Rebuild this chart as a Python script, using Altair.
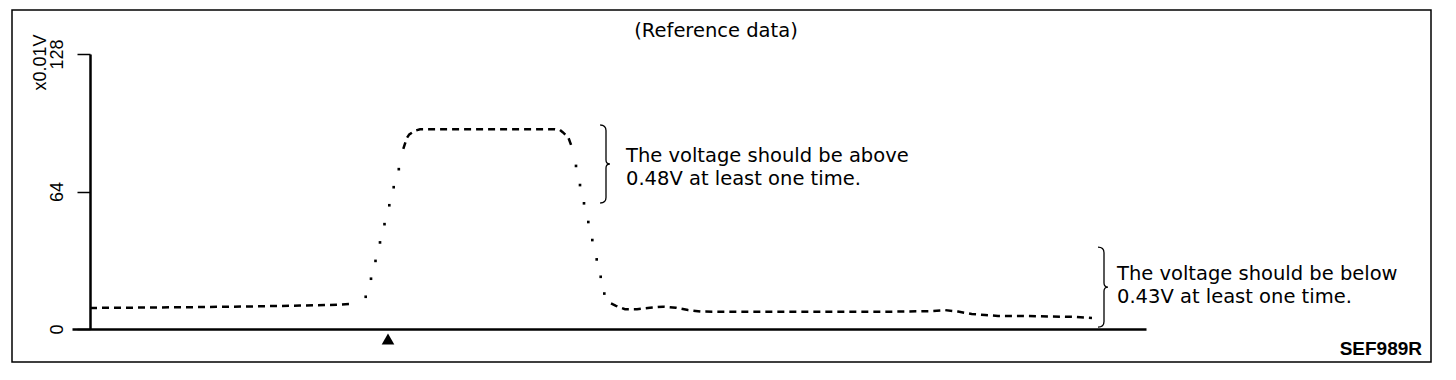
import altair as alt
import pandas as pd

# ---- curve samples (time units, x0.01V) ----
time = [0, 6, 11, 16, 21, 24, 26,
        27.57, 28.1, 28.55, 29.0, 29.45, 29.93, 30.37, 30.88,
        31.33, 31.67, 31.93, 32.5, 33.0, 36.0, 40.0, 44.0, 46.5, 47.0, 47.27, 47.83, 48.17,
        48.6, 49.0, 49.4, 49.83, 50.23, 50.67, 51.07, 51.43,
        52.1, 52.6, 53.5, 54.7, 56.0, 57.3, 58.6, 59.8, 61.17, 66, 71, 76, 81, 84, 85.5,
        86.8, 88.17, 89.5, 90.8, 93, 96, 98.3, 100.2]
volt = [9.8, 10.0, 10.2, 10.5, 10.9, 11.2, 11.6,
        15.0, 23.4, 31.7, 40.3, 48.8, 57.6, 66.0, 74.4,
        83.8, 88.8, 90.6, 92.3, 93.0, 93.0, 93.0, 93.0, 93.0, 92.6, 91.6, 89.2, 84.9,
        75.9, 67.0, 58.5, 49.8, 41.4, 32.4, 24.3, 16.5,
        11.9, 10.8, 9.2, 9.2, 9.9, 10.4, 9.9, 8.8, 8.1, 8.0, 8.0, 8.0, 8.1, 8.3, 8.8,
        8.1, 7.0, 6.5, 6.1, 6.1, 5.8, 5.7, 5.1]
kind = (["a"] * 7 + ["rise"] * 8 + ["b"] * 13 + ["fall"] * 8 + ["c"] * 23)

y_ticks = [0, 64, 128]

# annotations
ann_text = ["The voltage should be above", "0.48V at least one time.",
            "The voltage should be below", "0.43V at least one time."]
ann_t = [53.6, 53.6, 102.7, 102.7]
ann_v = [77.7, 67.0, 22.8, 12.1]

brace_t = [51.6, 101.4]
brace_v = [76.8, 19.5]
brace_size = [6084, 6400]

marker_t = [29.8]
marker_v = [-4.7]

title_text = ["(Reference data)"]
title_t = [62.6]
title_v = [135.9]

code_text = ["SEF989R"]
code_t = [133.2]
code_v = [-12.1]

df = pd.DataFrame({"t": time, "v": volt, "kind": kind})
ann = pd.DataFrame({"t": ann_t, "v": ann_v, "txt": ann_text})
braces = pd.DataFrame({"t": brace_t, "v": brace_v, "s": brace_size})
marker = pd.DataFrame({"t": marker_t, "v": marker_v})
ttl = pd.DataFrame({"t": title_t, "v": title_v, "txt": title_text})
code = pd.DataFrame({"t": code_t, "v": code_v, "txt": code_text})

xscale = alt.Scale(domain=[-1.8, 105.6], nice=False, zero=False)
yscale = alt.Scale(domain=[0, 128], nice=False, zero=False)

X = alt.X("t:Q", scale=xscale,
          axis=alt.Axis(domain=True, ticks=False, labels=False, grid=False, title=None,
                        domainColor="black", domainWidth=2.5))
Y = alt.Y("v:Q", scale=yscale,
          axis=alt.Axis(values=y_ticks, offset=-18, tickSize=13, tickWidth=1.5, tickColor="black",
                        domainColor="black", domainWidth=2.5, grid=False,
                        labelAngle=270, labelAlign="center", labelBaseline="alphabetic",
                        labelPadding=15, labelFont="Liberation Sans", labelFontSize=18,
                        labelColor="black", labelFlush=False, labelOverlap=False,
                        title="x0.01V", titleAngle=270, titleX=-45, titleY=8,
                        titleAlign="center", titleBaseline="alphabetic",
                        titleFont="Liberation Sans", titleFontSize=18,
                        titleFontWeight="normal", titleColor="black"))

lines = alt.Chart(df).transform_filter(
    alt.FieldOneOfPredicate(field="kind", oneOf=["a", "b", "c"])
).mark_line(color="black", strokeWidth=2.5, strokeDash=[7, 5]).encode(
    x=X, y=Y, detail="kind:N")

dots = alt.Chart(df).transform_filter(
    alt.FieldOneOfPredicate(field="kind", oneOf=["rise", "fall"])
).mark_square(color="black", size=7, opacity=1).encode(
    x=alt.X("t:Q", scale=xscale), y=alt.Y("v:Q", scale=yscale))

brace_path = "M -0.15 -1 Q 0 -1 0 -0.86 L 0 -0.1 Q 0 0 0.1 0 Q 0 0 0 0.1 L 0 0.86 Q 0 1 -0.15 1"
brace_marks = alt.Chart(braces).mark_point(
    shape=brace_path, filled=False, stroke="black", strokeWidth=1.3, opacity=1).encode(
    x=alt.X("t:Q", scale=xscale), y=alt.Y("v:Q", scale=yscale),
    size=alt.Size("s:Q", scale=None))

ann_marks = alt.Chart(ann).mark_text(
    align="left", baseline="alphabetic", font="DejaVu Sans", fontSize=19.5, color="black").encode(
    x=alt.X("t:Q", scale=xscale), y=alt.Y("v:Q", scale=yscale), text="txt:N")

title_mark = alt.Chart(ttl).mark_text(
    align="center", baseline="alphabetic", font="DejaVu Sans", fontSize=19.5, color="black").encode(
    x=alt.X("t:Q", scale=xscale), y=alt.Y("v:Q", scale=yscale), text="txt:N")

code_mark = alt.Chart(code).mark_text(
    align="right", baseline="alphabetic", font="Liberation Sans", fontSize=19,
    fontWeight="bold", color="black").encode(
    x=alt.X("t:Q", scale=xscale), y=alt.Y("v:Q", scale=yscale), text="txt:N")

marker_mark = alt.Chart(marker).mark_point(
    shape="triangle-up", filled=True, color="black", size=160, opacity=1).encode(
    x=alt.X("t:Q", scale=xscale), y=alt.Y("v:Q", scale=yscale))

frame = alt.Chart(marker).mark_rect(
    fill="white", fillOpacity=0, stroke="black", strokeWidth=1.5).encode(
    x=alt.value(-60), x2=alt.value(1359), y=alt.value(-44), y2=alt.value(308))

chart = alt.layer(
    frame, lines, dots, brace_marks, ann_marks, title_mark, code_mark, marker_mark
).properties(
    width=1074, height=275,
    autosize=alt.AutoSizeParams(type="none"),
    padding={"left": 64, "top": 46, "right": 300, "bottom": 40},
    background="white"
).configure_view(strokeWidth=0)

chart.save("out.html", embed_options={"renderer": "svg", "actions": False})
